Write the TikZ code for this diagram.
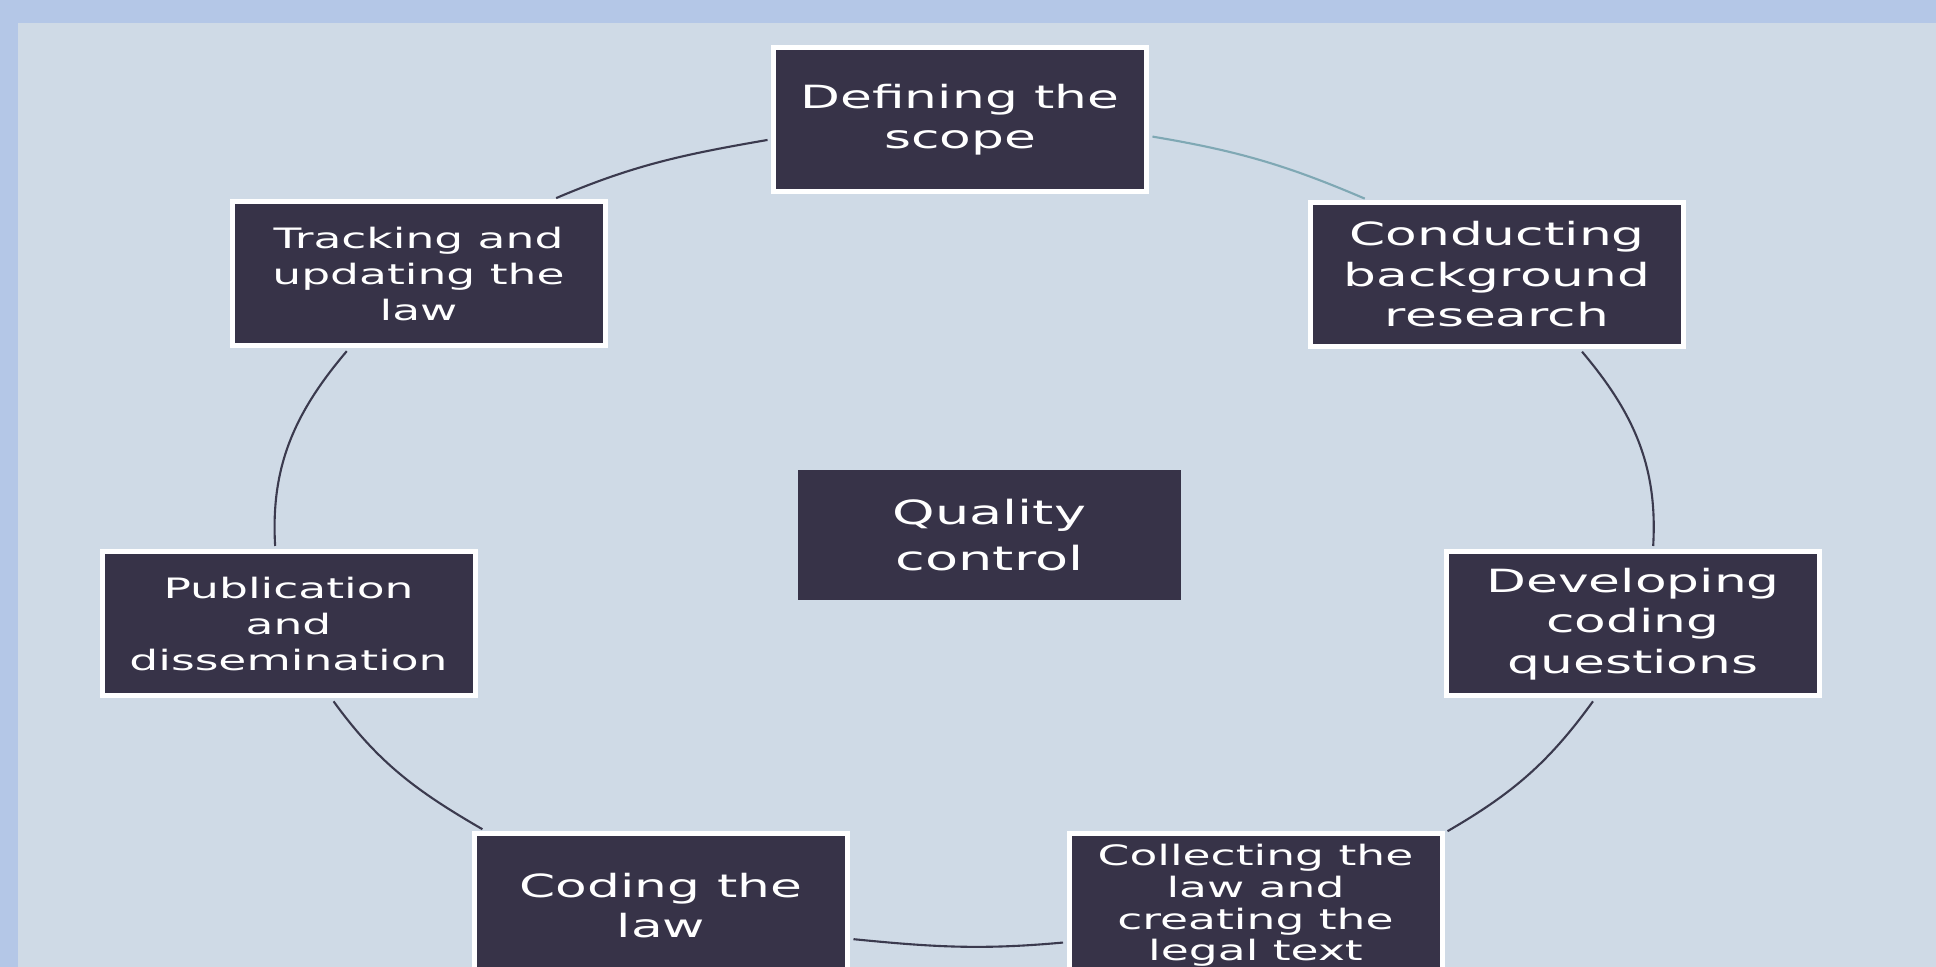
\documentclass[tikz,border=0pt]{standalone}
\usepackage{fontspec}
\usepackage{tikz}

\newfontfamily\stepfont[FakeStretch=1.62]{DejaVu Sans}
\definecolor{frameblue}{HTML}{B4C7E7}
\definecolor{paneblue}{HTML}{CFDAE6}
\definecolor{boxdark}{HTML}{373348}
\definecolor{linedark}{HTML}{3B3A4E}
\definecolor{lineteal}{HTML}{7FA8B4}

\begin{document}
\begin{tikzpicture}[shorten >=1pt, shorten <=1pt,
  phase/.style={draw=white, line width=0.5mm, fill=boxdark, text=white,
    shape=rectangle, minimum width=3.73cm, minimum height=1.44cm, inner sep=1pt,
    align=center, font=\stepfont\fontsize{9.1}{11.5}\selectfont},
  cycleline/.style={draw=linedark, line width=0.6pt}]

  \clip (0,0) rectangle (19.36,9.67);
  \fill[frameblue] (0,0) rectangle (19.36,9.67);
  \fill[paneblue] (0.18,0) rectangle (19.36,9.44);

  \node[phase] (scope) at (9.60,8.475) {Defining the\\scope};
  \node[phase] (research) at (14.97,6.925) {Conducting\\background\\research};
  \node[phase] (questions) at (16.33,3.43) {Developing\\coding\\questions};
  \node[phase, font=\stepfont\fontsize{8}{9}\selectfont] (collect) at (12.555,0.615)
    {Collecting the\\law and\\creating the\\legal text};
  \node[phase] (coding) at (6.61,0.615) {Coding the\\law};
  \node[phase, font=\stepfont\fontsize{8}{10.2}\selectfont] (publish) at (2.885,3.43)
    {Publication\\and\\dissemination};
  \node[phase, font=\stepfont\fontsize{8}{10.2}\selectfont] (track) at (4.185,6.93)
    {Tracking and\\updating the\\law};
  \node[phase, draw=none, minimum width=3.83cm, minimum height=1.30cm,
    font=\stepfont\fontsize{9.5}{13}\selectfont] (quality) at (9.895,4.32) {Quality\\control};

  \path
    (scope.-5.7) edge [cycleline, draw=lineteal, out=-9.5, in=156.8] (research.150.7)
    (research.-42.6) edge [cycleline, out=-49.8, in=86.6] (questions.75.7)
    (questions.-117) edge [cycleline, out=-125.9, in=30.1] (collect.21.8)
    (collect.-169.1) edge [cycleline, out=-174.8, in=-5.7] (coding.-10.8)
    (coding.157.2) edge [cycleline, out=149.9, in=-54.1] (publish.-60.6)
    (publish.100.6) edge [cycleline, out=93.4, in=-130.3] (track.-133)
    (track.29.2) edge [cycleline, out=23.1, in=189.8] (scope.-174.1);
\end{tikzpicture}
\end{document}
